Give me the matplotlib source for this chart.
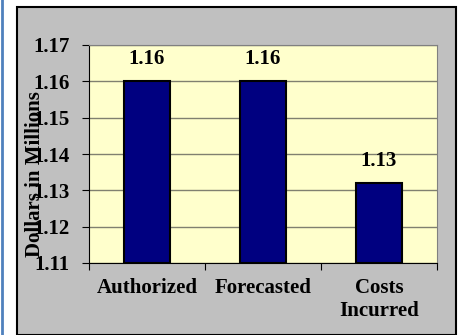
import matplotlib
matplotlib.use("Agg")
import matplotlib.pyplot as plt
from matplotlib.patches import Rectangle
from matplotlib.lines import Line2D

categories = ["Authorized", "Forecasted", "Costs\nIncurred"]
values = [1.16, 1.16, 1.132]
labels = ["1.16", "1.16", "1.13"]
yticks = [1.11, 1.12, 1.13, 1.14, 1.15, 1.16, 1.17]
ylabel = "Dollars in Millions"

W, H = 461, 335
FS = 15
fig = plt.figure(figsize=(W/100, H/100), dpi=100)
fig.patch.set_facecolor("white")

# outer gray frame with black border
fig.patches.append(Rectangle((17/W, 0), (456-17)/W, (H-6.5)/H, transform=fig.transFigure,
                             facecolor="#C0C0C0", edgecolor="black", linewidth=1.5, zorder=-5))
# blue line on left
fig.lines.append(Line2D([2/W, 2/W], [0, 1], transform=fig.transFigure, color="#4F81BD", linewidth=2, zorder=-5))

left, right, top, bottom = 89, 437, 45, 263
ax = fig.add_axes([left/W, 1-bottom/H, (right-left)/W, (bottom-top)/H])
ax.set_facecolor("#FFFFCC")
x = list(range(len(categories)))
ax.bar(x, [v - 1.11 for v in values], bottom=1.11, width=0.405, color="#000080",
       edgecolor="black", linewidth=1.5, zorder=3)
ax.set_xlim(-0.5, 2.5)
ax.set_ylim(1.11, 1.17)
ax.set_yticks(yticks)
ax.set_yticklabels([f"{t:.2f}" for t in yticks])
ax.yaxis.grid(True, color="#808070", linewidth=1)
ax.set_axisbelow(True)
ax.set_xticks([-0.5, 0.5, 1.5, 2.5])
ax.set_xticklabels([])
ax.set_xticks(x, minor=True)
ax.set_xticklabels(categories, minor=True)
ax.tick_params(axis="x", which="minor", length=0, pad=11)
ax.tick_params(axis="x", which="major", length=5, color="black")
ax.tick_params(axis="y", length=5, color="black", pad=9)
for lab in ax.get_xticklabels(minor=True) + ax.get_yticklabels():
    lab.set_fontfamily("Liberation Serif")
    lab.set_fontweight("bold")
    lab.set_fontsize(FS)
for s in ["top", "right"]:
    ax.spines[s].set_color("#808080")
ax.spines["left"].set_color("black")
ax.spines["bottom"].set_color("black")

for xi, v, l in zip(x, values, labels):
    ax.annotate(l, (xi, v), xytext=(0, 9), textcoords="offset points", ha="center", va="bottom",
                fontfamily="Liberation Serif", fontweight="bold", fontsize=FS)

fig.text(35/W, 1-174/H, ylabel, rotation=90, ha="center", va="center",
         fontfamily="Liberation Serif", fontweight="bold", fontsize=FS)

fig.savefig("out.png", dpi=100)
